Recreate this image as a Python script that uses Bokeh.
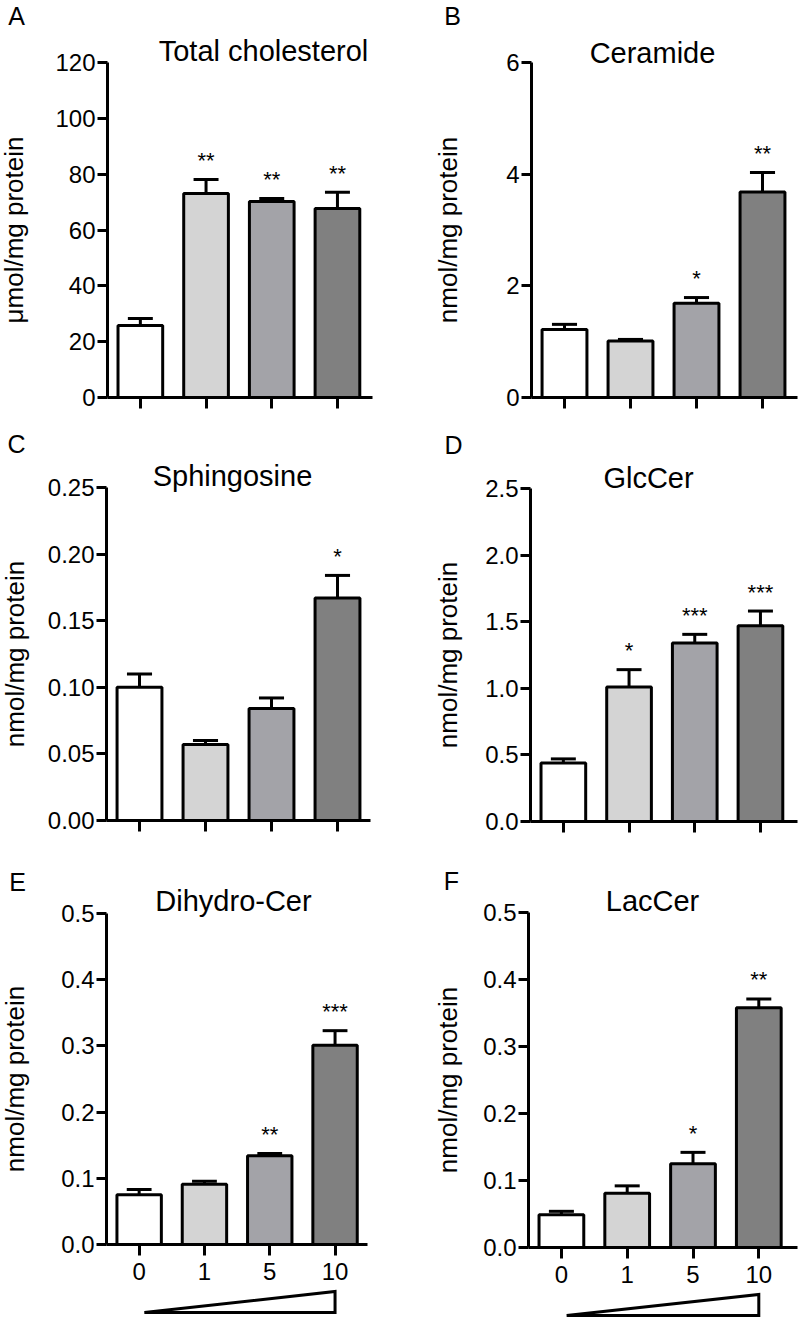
from bokeh.plotting import figure
from bokeh.layouts import column, row
from bokeh.models import (FixedTicker, Label, Range1d, PrintfTickFormatter,
                          ColumnDataSource)
from bokeh.embed import file_html
from bokeh.resources import INLINE
from bokeh.core.properties import value

FONT = "Liberation Sans"

# ---------------- data ----------------
doses = ["0", "1", "5", "10"]
bar_colors = ["#ffffff", "#d4d4d4", "#a3a3a8", "#808080"]

chol_mean = [25.8, 73.1, 70.2, 67.7]
chol_sem = [2.5, 5.0, 1.1, 5.8]
chol_sig = ["", "**", "**", "**"]

cer_mean = [1.22, 1.01, 1.69, 3.68]
cer_sem = [0.09, 0.03, 0.10, 0.35]
cer_sig = ["", "", "*", "**"]

sph_mean = [0.100, 0.057, 0.084, 0.167]
sph_sem = [0.010, 0.003, 0.008, 0.017]
sph_sig = ["", "", "", "*"]

glc_mean = [0.44, 1.01, 1.34, 1.47]
glc_sem = [0.03, 0.13, 0.065, 0.11]
glc_sig = ["", "*", "***", "***"]

dhc_mean = [0.075, 0.091, 0.134, 0.301]
dhc_sem = [0.008, 0.0045, 0.0035, 0.022]
dhc_sig = ["", "", "**", "***"]

lac_mean = [0.049, 0.081, 0.125, 0.358]
lac_sem = [0.005, 0.011, 0.017, 0.013]
lac_sig = ["", "", "*", "**"]

panels = [
    dict(letter="A", title="Total cholesterol", ylabel="\u03bcmol/mg protein",
         mean=chol_mean, sem=chol_sem, sig=chol_sig,
         ymax=120, ticks=[0, 20, 40, 60, 80, 100, 120], fmt="%d"),
    dict(letter="B", title="Ceramide", ylabel="nmol/mg protein",
         mean=cer_mean, sem=cer_sem, sig=cer_sig,
         ymax=6, ticks=[0, 2, 4, 6], fmt="%d"),
    dict(letter="C", title="Sphingosine", ylabel="nmol/mg protein",
         mean=sph_mean, sem=sph_sem, sig=sph_sig,
         ymax=0.25, ticks=[0, 0.05, 0.10, 0.15, 0.20, 0.25], fmt="%.2f"),
    dict(letter="D", title="GlcCer", ylabel="nmol/mg protein",
         mean=glc_mean, sem=glc_sem, sig=glc_sig,
         ymax=2.5, ticks=[0, 0.5, 1.0, 1.5, 2.0, 2.5], fmt="%.1f"),
    dict(letter="E", title="Dihydro-Cer", ylabel="nmol/mg protein",
         mean=dhc_mean, sem=dhc_sem, sig=dhc_sig,
         ymax=0.5, ticks=[0, 0.1, 0.2, 0.3, 0.4, 0.5], fmt="%.1f"),
    dict(letter="F", title="LacCer", ylabel="nmol/mg protein",
         mean=lac_mean, sem=lac_sem, sig=lac_sig,
         ymax=0.5, ticks=[0, 0.1, 0.2, 0.3, 0.4, 0.5], fmt="%.1f"),
]

# ---------------- layout / style (pixels inside each figure) ----------------
FIG_W = 400
ROW_H = [430, 436, 455]
AXIS_X = [107, 131, 106, 130, 106, 128]      # y-axis position
PPU = [65.7, 66.0, 66.0, 65.7, 65.3, 65.8]   # px per category
Y0 = [397, 397, 390, 391, 378, 381]          # baseline
YTOP = [62, 62, 57, 58, 47, 46]              # top of y-axis
XEND = [372, 397, 370, 397, 367, 397]        # right end of x-axis
TITLE_XY = [(263, 50), (252, 52), (232, 45), (248, 47), (233, 34), (252, 34)]
LETTER_XY = [(16, 15), (52, 15), (16, 13), (53, 14), (17, 15), (51, 14)]
YLABEL_STANDOFF = [23, 40, 15, 19, 28, 17]
STAR_GAP = 19


def make_panel(i, spec):
    col, rw = i % 2, i // 2
    W, H = FIG_W, ROW_H[rw]
    ax_px, ppu, y0, yt = AXIS_X[i], PPU[i], Y0[i], YTOP[i]
    ymax = spec["ymax"]
    upy = ymax / (y0 - yt)

    def dx(px):
        return -0.5 + (px - ax_px) / ppu

    def dy(py):
        return (y0 - py) * upy

    p = figure(width=W, height=H,
               x_range=Range1d(dx(0), dx(W)), y_range=Range1d(dy(H), dy(0)),
               output_backend="svg", toolbar_location=None, tools="",
               min_border=0, min_border_left=0, min_border_right=0,
               min_border_top=0, min_border_bottom=0,
               outline_line_color=None, background_fill_color="white",
               border_fill_color="white")
    p.xgrid.visible = False
    p.ygrid.visible = False

    xs = list(range(len(doses)))
    mean, sem = spec["mean"], spec["sem"]
    top = [m + s for m, s in zip(mean, sem)]
    src = ColumnDataSource(dict(
        x=xs, mean=mean, top=top, color=bar_colors,
        cl=[x - 0.19 for x in xs], cr=[x + 0.19 for x in xs],
        sig=spec["sig"], sy=[t + STAR_GAP * upy for t in top]))

    p.vbar(x="x", width=0.68, top="mean", bottom=0, source=src,
           fill_color="color", line_color="black", line_width=3)
    p.segment(x0="x", y0="mean", x1="x", y1="top", source=src,
              line_color="black", line_width=3)
    p.segment(x0="cl", y0="top", x1="cr", y1="top", source=src,
              line_color="black", line_width=3)
    p.text(x="x", y="sy", text="sig", source=src, text_align="center",
           text_baseline="alphabetic", text_font=value(FONT),
           text_font_size=value("22px"), text_color="black")

    # axes
    for ax in (p.xaxis[0], p.yaxis[0]):
        ax.axis_line_width = 3
        ax.axis_line_color = "black"
        ax.major_tick_line_width = 3
        ax.major_tick_line_color = "black"
        ax.major_tick_in = 0
        ax.minor_tick_line_color = None
        ax.major_label_text_font = FONT
        ax.major_label_text_font_size = "24px"
        ax.major_label_text_color = "black"

    ya = p.yaxis[0]
    ya.fixed_location = -0.5
    ya.bounds = (0, ymax)
    ya.major_tick_out = 10
    ya.major_label_standoff = 2
    ya.ticker = FixedTicker(ticks=spec["ticks"], minor_ticks=[])
    ya.formatter = PrintfTickFormatter(format=spec["fmt"])
    ya.axis_label = spec["ylabel"]
    ya.axis_label_text_font = FONT
    ya.axis_label_text_font_size = "26px"
    ya.axis_label_text_font_style = "normal"
    ya.axis_label_text_color = "black"
    ya.axis_label_standoff = YLABEL_STANDOFF[i]

    xa = p.xaxis[0]
    xa.fixed_location = 0
    xa.bounds = (-0.5, dx(XEND[i]))
    xa.major_tick_out = 11
    xa.ticker = FixedTicker(ticks=xs, minor_ticks=[])
    if rw == 2:
        xa.major_label_overrides = {x: d for x, d in zip(xs, doses)}
        xa.major_label_standoff = 7
        # dose ramp triangle under the axis (lowest to highest dose)
        p.patch(x=[xs[0] + 0.08, xs[-1], xs[-1]],
                y=[-68 * upy, -68 * upy, -47 * upy],
                fill_color="white", line_color="black", line_width=3,
                line_join="miter")
    else:
        xa.major_label_overrides = {x: "" for x in xs}
        xa.major_label_text_font_size = "1px"
        xa.major_label_standoff = 0

    # title and panel letter
    tx, ty = TITLE_XY[i]
    p.add_layout(Label(x=dx(tx), y=dy(ty), text=spec["title"], text_font=FONT,
                       text_font_size="29px", text_align="center",
                       text_baseline="middle", text_color="black"))
    lx, ly = LETTER_XY[i]
    p.add_layout(Label(x=dx(lx), y=dy(ly), text=spec["letter"], text_font=FONT,
                       text_font_size="25px", text_align="center",
                       text_baseline="middle", text_color="black"))
    return p


figs = [make_panel(i, s) for i, s in enumerate(panels)]
layout = column(row(figs[0], figs[1]), row(figs[2], figs[3]), row(figs[4], figs[5]))

with open("out.html", "w") as f:
    f.write(file_html(layout, INLINE))
